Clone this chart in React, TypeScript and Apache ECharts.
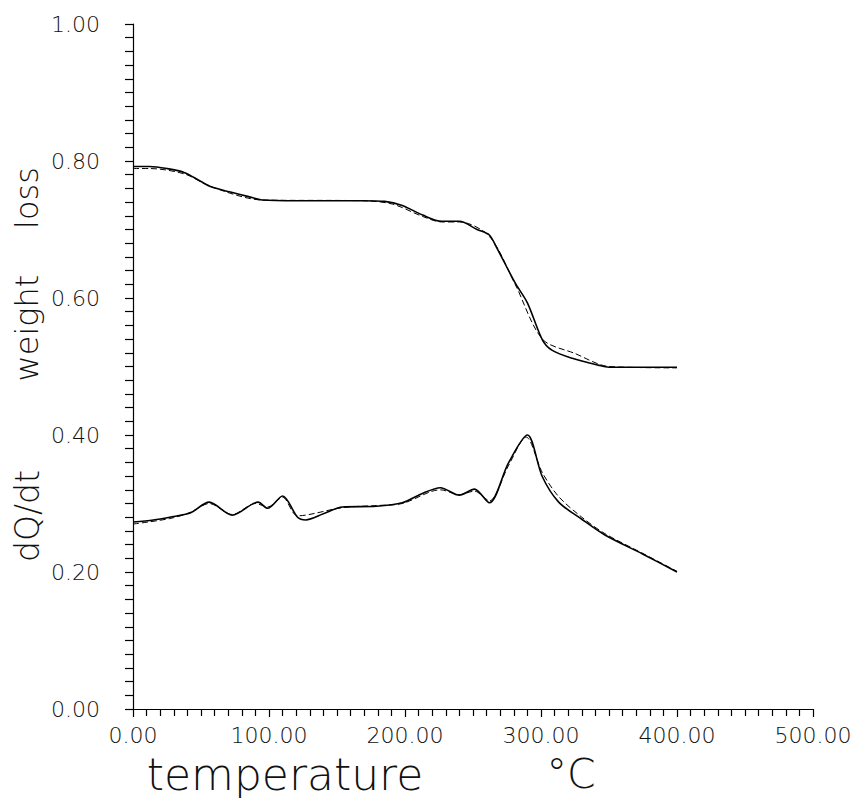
import React, { useEffect, useRef } from "react";
import * as echarts from "echarts";

// temperature (°C), value
const weightMeasured: [number, number][] = [
  [0, 0.792], [12, 0.792], [25, 0.789], [38, 0.783], [50, 0.770], [58, 0.762],
  [71, 0.755], [85, 0.748], [95, 0.743], [120, 0.742], [169, 0.742], [185, 0.741],
  [198, 0.735], [213, 0.721], [227, 0.712], [240, 0.712], [253, 0.700], [262, 0.692],
  [267, 0.675], [281, 0.622], [290, 0.593], [301, 0.539], [308, 0.524], [323, 0.512],
  [342, 0.502], [350, 0.499], [400, 0.499],
];
const weightFit: [number, number][] = [
  [0, 0.789], [12, 0.789], [38, 0.781], [58, 0.762], [95, 0.743], [169, 0.742],
  [191, 0.737], [213, 0.719], [227, 0.711], [240, 0.711], [262, 0.690], [281, 0.620],
  [301, 0.540], [325, 0.519], [350, 0.500], [400, 0.498],
];
const dqMeasured: [number, number][] = [
  [0, 0.273], [15, 0.276], [27, 0.280], [42, 0.286], [56, 0.302], [73, 0.283],
  [92, 0.302], [99, 0.293], [110, 0.311], [121, 0.280], [127, 0.276], [140, 0.285],
  [154, 0.295], [179, 0.296], [198, 0.301], [212, 0.314], [226, 0.323], [240, 0.312],
  [251, 0.321], [262, 0.301], [276, 0.359], [290, 0.400], [301, 0.339], [313, 0.302],
  [330, 0.277], [347, 0.254], [375, 0.226], [400, 0.200],
];
const dqFit: [number, number][] = [
  [0, 0.270], [27, 0.278], [42, 0.287], [56, 0.300], [73, 0.284], [90, 0.300],
  [99, 0.295], [110, 0.309], [121, 0.282], [154, 0.294], [179, 0.297], [198, 0.300],
  [226, 0.320], [240, 0.313], [251, 0.318], [262, 0.304], [276, 0.355], [289, 0.397],
  [301, 0.345], [313, 0.310], [330, 0.280], [347, 0.256], [375, 0.227], [400, 0.201],
];

const xTitle = "temperature";
const xUnit = "°C";
const yTitleA = "weight";
const yTitleB = "loss";
const yTitleC = "dQ/dt";

const FONT = "DejaVu Sans";
const INK = "#111";

export default function App() {
  const ref = useRef<HTMLDivElement>(null);
  useEffect(() => {
    if (!ref.current) return;
    const chart = echarts.init(ref.current, undefined, { renderer: "svg" });
    const lineSolid = { color: "#000", width: 1.6 };
    const lineDash = { color: "#000", width: 1, type: [6, 3] as any };
    chart.setOption({
      animation: false,
      backgroundColor: "#fff",
      grid: { left: 133, right: 42, top: 24, bottom: 89 },
      xAxis: {
        type: "value",
        min: 0,
        max: 500,
        interval: 100,
        axisLine: { show: true, lineStyle: { color: "#000", width: 1.2 } },
        axisTick: { show: true, inside: false, length: 8, lineStyle: { color: "#000", width: 1.2 } },
        minorTick: { show: true, splitNumber: 10, length: 7, lineStyle: { color: "#000", width: 1.2 } },
        splitLine: { show: false },
        axisLabel: {
          margin: 15,
          fontFamily: FONT,
          fontWeight: 200,
          fontSize: 22,
          lineHeight: 22,
          color: INK,
          formatter: (v: number) => v.toFixed(2),
        },
      },
      yAxis: {
        type: "value",
        min: 0,
        max: 1,
        interval: 0.2,
        axisLine: { show: true, lineStyle: { color: "#000", width: 1.2 } },
        axisTick: { show: true, inside: false, length: 8, lineStyle: { color: "#000", width: 1.2 } },
        minorTick: { show: true, splitNumber: 10, length: 8, lineStyle: { color: "#000", width: 1.2 } },
        splitLine: { show: false },
        axisLabel: {
          margin: 33,
          fontFamily: FONT,
          fontWeight: 200,
          fontSize: 22,
          color: INK,
          formatter: (v: number) => v.toFixed(2),
        },
      },
      series: [
        { type: "line", data: weightMeasured, showSymbol: false, smooth: 0.3, lineStyle: lineSolid },
        { type: "line", data: weightFit, showSymbol: false, smooth: 0.3, lineStyle: lineDash },
        { type: "line", data: dqMeasured, showSymbol: false, smooth: 0.3, lineStyle: lineSolid },
        { type: "line", data: dqFit, showSymbol: false, smooth: 0.3, lineStyle: lineDash },
      ],
      graphic: [
        {
          type: "text", x: 27, y: 328, rotation: Math.PI / 2,
          style: { text: yTitleA, fontFamily: FONT, fontWeight: 200, fontSize: 32, fill: INK, textAlign: "center", textVerticalAlign: "middle" },
        },
        {
          type: "text", x: 27, y: 198, rotation: Math.PI / 2,
          style: { text: yTitleB, fontFamily: FONT, fontWeight: 200, fontSize: 32, fill: INK, textAlign: "center", textVerticalAlign: "middle" },
        },
        {
          type: "text", x: 27, y: 516, rotation: Math.PI / 2,
          style: { text: yTitleC, fontFamily: FONT, fontWeight: 200, fontSize: 33, fill: INK, textAlign: "center", textVerticalAlign: "middle" },
        },
        {
          type: "text", x: 285, y: 774,
          style: { text: xTitle, fontFamily: FONT, fontWeight: 200, fontSize: 44, lineHeight: 44, fill: INK, textAlign: "center", textVerticalAlign: "middle" },
        },
        {
          type: "text", x: 571, y: 774,
          style: { text: xUnit, fontFamily: FONT, fontWeight: 200, fontSize: 41, lineHeight: 41, fill: INK, textAlign: "center", textVerticalAlign: "middle" },
        },
      ],
    });
    return () => chart.dispose();
  }, []);
  return (
    <div
      ref={ref}
      style={{ position: "fixed", left: 0, top: 0, width: 855, height: 798, background: "#fff" }}
    />
  );
}
